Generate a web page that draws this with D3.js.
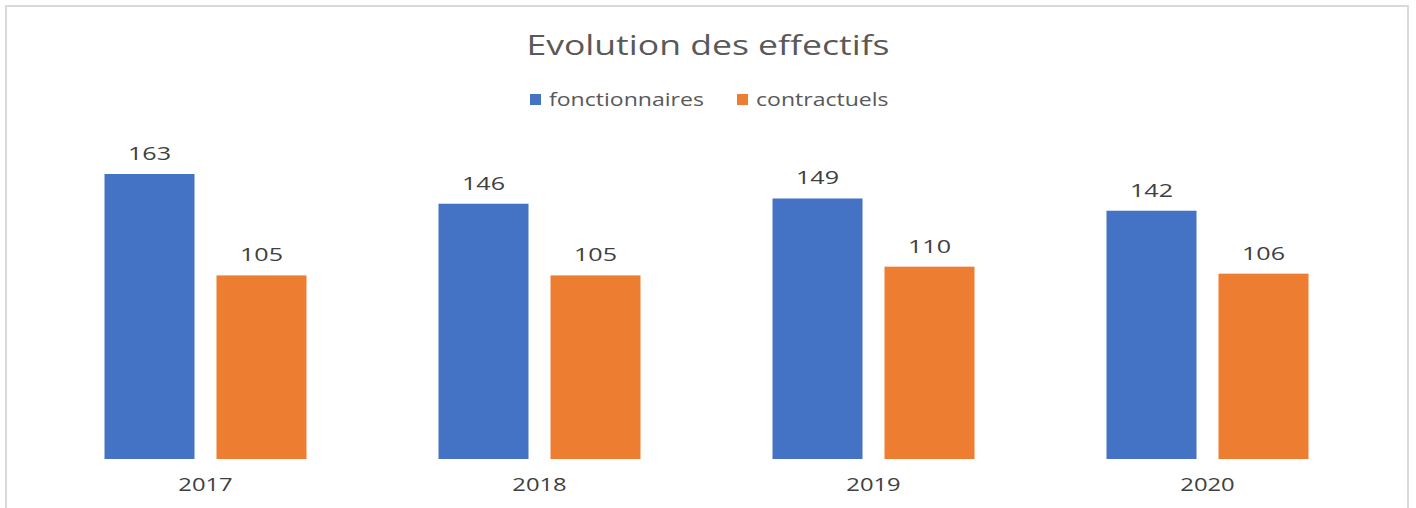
<!DOCTYPE html>
<html><head><meta charset="utf-8">
<script src="https://cdn.jsdelivr.net/npm/d3@7"></script>
<style>html,body{margin:0;padding:0;background:#fff;}svg{display:block;}</style>
</head><body>
<svg id="chart" width="1416" height="508"></svg>
<script>
const categories = ["2017", "2018", "2019", "2020"];
const seriesNames = ["fonctionnaires", "contractuels"];
const fonctionnaires = [163, 146, 149, 142];
const contractuels = [105, 105, 110, 106];
const colors = ["#4472C4", "#ED7D31"];
const title = "Evolution des effectifs";

const data = categories.map((c, i) => ({cat: c, values: [fonctionnaires[i], contractuels[i]]}));

const svg = d3.select("#chart");
const font = "'Open Sans', 'Noto Sans', sans-serif";

function stretch(sel, k) {
  sel.each(function() {
    const w = this.getComputedTextLength();
    d3.select(this).attr("textLength", w * k).attr("lengthAdjust", "spacingAndGlyphs");
  });
}

// frame
svg.append("rect").attr("x", 6).attr("y", 6).attr("width", 1402).attr("height", 520)
  .attr("fill", "#fff").attr("stroke", "#d9d9d9").attr("stroke-width", 2);

const plot = {left: 38.5, right: 1374.5, top: 174, bottom: 459};
const x0 = d3.scaleBand().domain(categories).range([plot.left, plot.right]).paddingInner(0).paddingOuter(0);
const x1 = d3.scaleBand().domain(seriesNames).range([0, 202]).paddingInner(22 / 112).paddingOuter(0);
const y = d3.scaleLinear().domain([0, 163]).range([plot.bottom, plot.top]);

const g = svg.append("g");
const groups = g.selectAll("g.cat").data(data).join("g")
  .attr("transform", d => `translate(${x0(d.cat) + x0.bandwidth()/2 - 101},0)`);

groups.selectAll("rect").data(d => d.values.map((v, i) => ({v, s: seriesNames[i], i})))
  .join("rect")
  .attr("x", d => x1(d.s)).attr("width", x1.bandwidth())
  .attr("y", d => y(d.v)).attr("height", d => y(0) - y(d.v))
  .attr("fill", d => colors[d.i]);

groups.selectAll("text.lbl").data(d => d.values.map((v, i) => ({v, s: seriesNames[i], i})))
  .join("text").attr("class", "lbl")
  .attr("x", d => x1(d.s) + x1.bandwidth()/2)
  .attr("y", d => y(d.v) - 14)
  .attr("text-anchor", "middle")
  .attr("font-family", font).attr("font-size", 19).attr("fill", "#404040")
  .text(d => d.v)
  .call(stretch, 1.32);

// x axis labels
const xAxis = d3.axisBottom(x0).tickSize(0).tickPadding(19);
const ax = svg.append("g").attr("transform", `translate(0,${plot.bottom})`).call(xAxis);
ax.select(".domain").remove();
ax.selectAll("text").attr("font-family", font).attr("font-size", 19).attr("fill", "#404040")
  .call(stretch, 1.25);

// title
svg.append("text").attr("x", 708).attr("y", 55).attr("text-anchor", "middle")
  .attr("font-family", font).attr("font-size", 28).attr("fill", "#595959").text(title)
  .call(stretch, 1.27);

// legend
const leg = svg.append("g").attr("transform", "translate(530,100)");
const legX = [0, 207];
seriesNames.forEach((s, i) => {
  leg.append("rect").attr("x", legX[i]).attr("y", -6).attr("width", 11).attr("height", 11).attr("fill", colors[i]);
  leg.append("text").attr("x", legX[i] + 19).attr("y", 0).attr("dy", "0.35em")
    .attr("font-family", font).attr("font-size", 18).attr("fill", "#595959").text(s)
    .call(stretch, 1.28);
});
</script>
</body></html>
